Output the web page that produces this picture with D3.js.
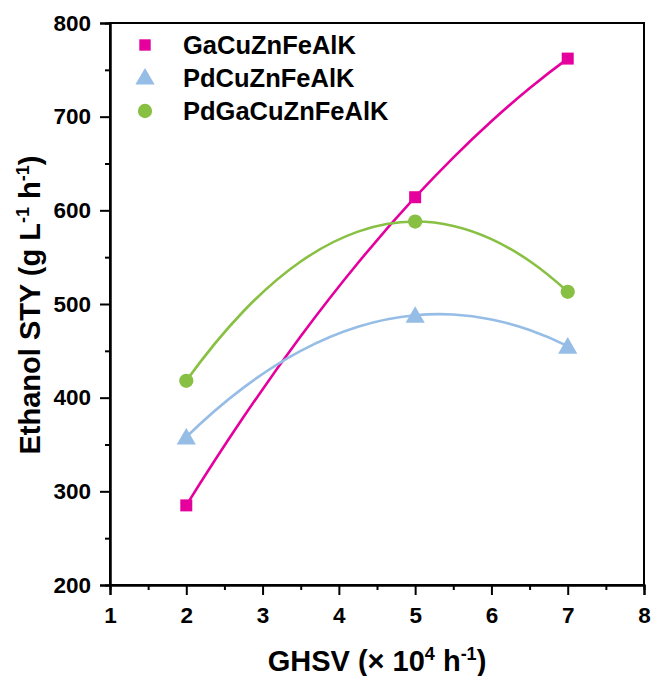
<!DOCTYPE html>
<html><head><meta charset="utf-8">
<script src="https://cdn.jsdelivr.net/npm/d3@7/dist/d3.min.js"></script>
<style>
body{margin:0;background:#fff;}
text{font-family:"Liberation Sans",Arial,sans-serif;font-weight:bold;fill:#000;}
</style></head><body>
<svg id="chart" width="651" height="676"></svg>
<script>
const ghsv = [2, 5, 7];
const seriesNames = ["GaCuZnFeAlK", "PdCuZnFeAlK", "PdGaCuZnFeAlK"];
const gaValues = [285, 614, 762];
const pdValues = [358, 488, 455];
const pdGaValues = [418, 588, 513];
const xTicks = [1, 2, 3, 4, 5, 6, 7, 8];
const yTicks = [200, 300, 400, 500, 600, 700, 800];
const colors = ["#E5009E", "#96BDE6", "#88C043"];
const symbols = [d3.symbolSquare, d3.symbolTriangle, d3.symbolCircle];

// Spline through all points (not-a-knot cubic == interpolating polynomial for 3 points),
// drawn exactly as quadratic Bezier pieces.
function polyCurve(context) {
  let pts = [];
  return {
    areaStart() {}, areaEnd() {},
    lineStart() { pts = []; },
    point(px, py) { pts.push([+px, +py]); },
    lineEnd() {
      if (!pts.length) return;
      const n = pts.length;
      const f = t => { let s = 0; for (let i = 0; i < n; i++) { let l = 1; for (let j = 0; j < n; j++) if (j !== i) l *= (t - pts[j][0]) / (pts[i][0] - pts[j][0]); s += l * pts[i][1]; } return s; };
      const df = t => (f(t + 1e-3) - f(t - 1e-3)) / 2e-3;
      context.moveTo(pts[0][0], pts[0][1]);
      for (let k = 0; k < n - 1; k++) {
        const x0 = pts[k][0], x1 = pts[k + 1][0], y0 = pts[k][1], y1 = pts[k + 1][1];
        const steps = 4;
        for (let s = 0; s < steps; s++) {
          const a = x0 + (x1 - x0) * s / steps, b = x0 + (x1 - x0) * (s + 1) / steps;
          const ya = f(a), yb = f(b), m = (a + b) / 2;
          const cy = ya + df(a) * (m - a);
          context.quadraticCurveTo(m, cy, b, s === steps - 1 ? y1 : yb);
        }
      }
    }
  };
}

const svg = d3.select("#chart");
const L = 110, R = 644, T = 23, B = 585;
const x = d3.scaleLinear().domain([1, 8]).range([L, R]);
const y = d3.scaleLinear().domain([200, 800]).range([B, T]);

svg.append("rect").attr("x", L).attr("y", T).attr("width", R - L).attr("height", B - T)
  .attr("fill", "none").attr("stroke", "#000").attr("stroke-width", 2);

const xAxis = svg.append("g").attr("transform", `translate(0,${B})`)
  .call(d3.axisBottom(x).tickValues(xTicks).tickSize(10).tickPadding(12).tickFormat(d3.format("d")));
const xMinor = svg.append("g").attr("transform", `translate(0,${B})`)
  .call(d3.axisBottom(x).tickValues(xTicks.slice(0, -1).map(v => v + 0.5)).tickSize(5).tickFormat(""));
const yAxis = svg.append("g").attr("transform", `translate(${L},0)`)
  .call(d3.axisLeft(y).tickValues(yTicks).tickSize(10).tickPadding(9).tickFormat(d3.format("d")));
const yMinor = svg.append("g").attr("transform", `translate(${L},0)`)
  .call(d3.axisLeft(y).tickValues(yTicks.slice(0, -1).map(v => v + 50)).tickSize(5).tickFormat(""));
[xAxis, xMinor, yAxis, yMinor].forEach(g => {
  g.select(".domain").attr("stroke-width", 2);
  g.selectAll(".tick line").attr("stroke-width", 2);
  g.selectAll("text").attr("font-size", 22.5).attr("font-family", "Liberation Sans, Arial, sans-serif").attr("font-weight", "bold");
});

const all = [gaValues, pdValues, pdGaValues];
const line = d3.line().x(d => x(d[0])).y(d => y(d[1])).curve(polyCurve);
all.forEach((vals, i) => {
  const pts = ghsv.map((g, j) => [g, vals[j]]);
  svg.append("path").datum(pts).attr("d", line).attr("fill", "none")
    .attr("stroke", colors[i]).attr("stroke-width", 2.6);
  svg.selectAll(null).data(pts).enter().append("path")
    .attr("d", d3.symbol().type(symbols[i]).size(i === 0 ? 144 : 160))
    .attr("transform", d => `translate(${x(d[0])},${y(d[1]) + (i === 1 ? 2 : 0)})`)
    .attr("fill", colors[i]);
});

const legY = [45, 78, 111];
seriesNames.forEach((n, i) => {
  svg.append("path").attr("d", d3.symbol().type(symbols[i]).size(i === 0 ? 130 : 160))
    .attr("transform", `translate(145,${legY[i] + (i === 1 ? 1 : 0)})`).attr("fill", colors[i]);
  svg.append("text").attr("x", 183).attr("y", legY[i] + 9).attr("font-size", 25.5)
    .text(n);
});

const xt = svg.append("text").attr("x", 377).attr("y", 671).attr("text-anchor", "middle").attr("font-size", 29);
xt.append("tspan").text("GHSV (× 10");
xt.append("tspan").attr("font-size", 18).attr("dy", -11).text("4");
xt.append("tspan").attr("dy", 11).text(" h");
xt.append("tspan").attr("font-size", 18).attr("dy", -11).text("-1");
xt.append("tspan").attr("dy", 11).text(")");

const yt = svg.append("text").attr("transform", "translate(40,305) rotate(-90)").attr("text-anchor", "middle").attr("font-size", 29);
yt.append("tspan").text("Ethanol STY (g L");
yt.append("tspan").attr("font-size", 18).attr("dy", -11).text("-1");
yt.append("tspan").attr("dy", 11).text(" h");
yt.append("tspan").attr("font-size", 18).attr("dy", -11).text("-1");
yt.append("tspan").attr("dy", 11).text(")");
</script>
</body></html>
